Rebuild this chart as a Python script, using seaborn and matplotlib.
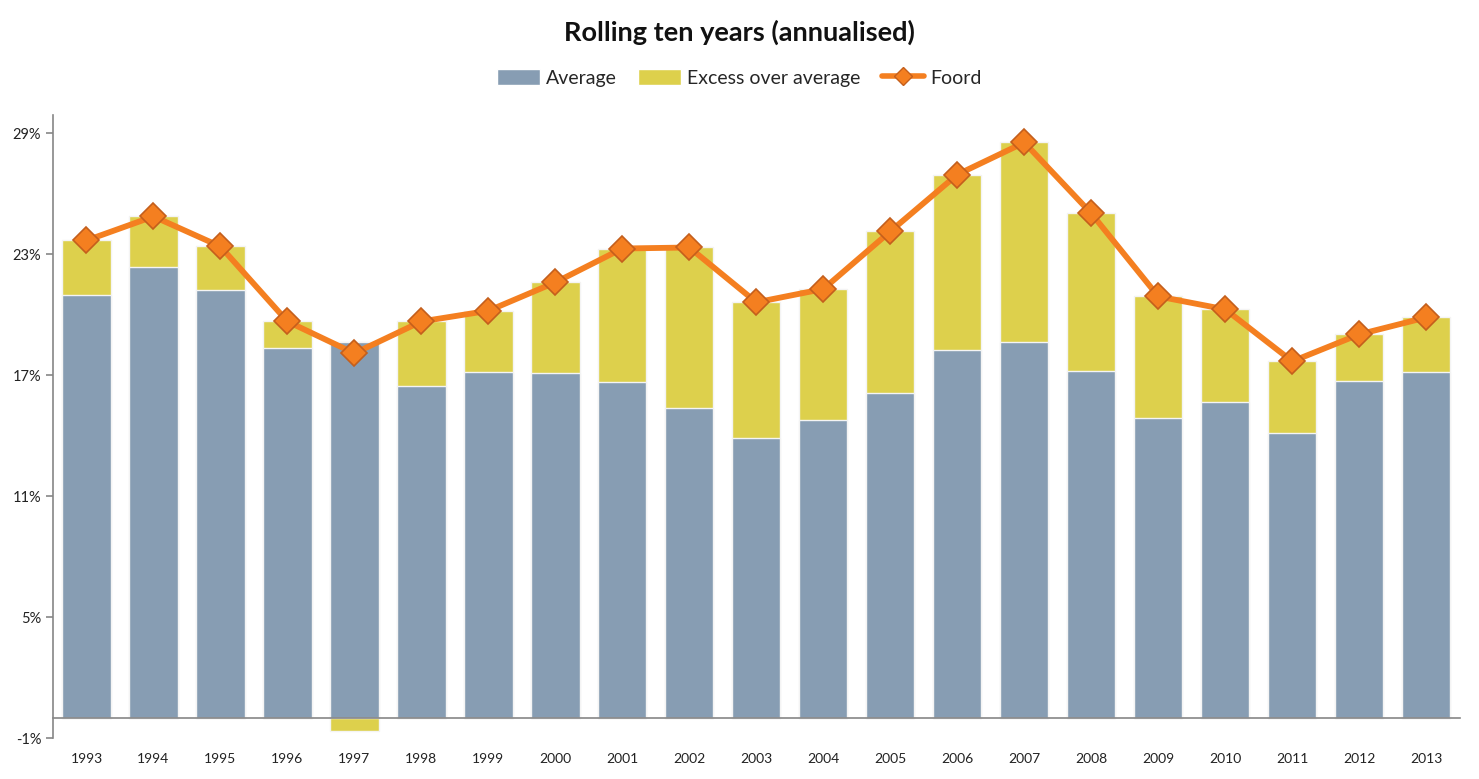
import numpy as np
import pandas as pd
import matplotlib
matplotlib.use("Agg")
import matplotlib.pyplot as plt
from matplotlib.lines import Line2D
from matplotlib.patches import Patch
import seaborn as sns

years = [str(y) for y in range(1993, 2014)]
average = [20.96, 22.35, 21.21, 18.34, 18.63, 16.45, 17.15, 17.10, 16.65, 15.36, 13.87,
           14.77, 16.10, 18.24, 18.63, 17.20, 14.87, 15.66, 14.12, 16.70, 17.15]
excess = [2.73, 2.53, 2.18, 1.33, -0.65, 3.22, 3.05, 4.51, 6.64, 7.98, 6.75,
          6.51, 8.04, 8.72, 9.92, 7.83, 6.04, 4.61, 3.57, 2.33, 2.72]
foord = [23.69, 24.88, 23.39, 19.67, 18.09, 19.67, 20.20, 21.61, 23.29, 23.34, 20.62,
         21.28, 24.14, 26.96, 28.55, 25.03, 20.91, 20.27, 17.69, 19.03, 19.87]
yticks = [-1, 5, 11, 17, 23, 29]

C_AVG = "#879DB3"
C_EXC = "#DDD04C"
C_LINE = "#F47F20"
C_EDGE = "#C45F1C"

sns.set_theme(style="white")
plt.rcParams['font.family'] = ['Lato', 'DejaVu Sans']

df = pd.DataFrame({"year": years, "average": average, "excess": excess, "foord": foord})
df["pos_top"] = df["average"] + df["excess"].clip(lower=0)
df["neg"] = df["excess"].clip(upper=0)
df["idx"] = np.arange(len(df))

fig = plt.figure(figsize=(14.79, 7.79), dpi=100)
ax = fig.add_axes([0.0358, 0.0526, 0.9512, 0.7994])

kw = dict(width=0.72, linewidth=1.0, edgecolor="#F4F4F4", ax=ax, order=years)
sns.barplot(data=df, x="year", y="pos_top", color=C_EXC, saturation=1, **kw)
sns.barplot(data=df, x="year", y="average", color=C_AVG, saturation=1, **kw)
sns.barplot(data=df, x="year", y="neg", color=C_EXC, saturation=1, **kw)

sns.lineplot(data=df, x="idx", y="foord", ax=ax, color=C_LINE, linewidth=4.2,
             marker="D", markersize=13, markerfacecolor=C_LINE,
             markeredgecolor=C_EDGE, markeredgewidth=1.2, zorder=5)

ax.set_xlim(-0.5, len(years) - 0.5)
ax.set_ylim(-1, 29.9)
ax.set_yticks(yticks)
ax.set_yticklabels([f"{v}%" for v in yticks])
ax.set_xlabel("")
ax.set_ylabel("")

for s in ["top", "right"]:
    ax.spines[s].set_visible(False)
ax.spines["left"].set_color("#868686")
ax.spines["left"].set_linewidth(1.2)
ax.spines["bottom"].set_position(("data", 0))
ax.spines["bottom"].set_color("#868686")
ax.spines["bottom"].set_linewidth(1.2)

ax.set_xticks(np.arange(len(years)))
ax.set_xticklabels(years)
ax.set_xticks(np.arange(len(years)) + 0.5, minor=True)
ax.tick_params(axis="x", which="major", length=0, pad=25, labelsize=10, labelcolor="#222222")
ax.tick_params(axis="x", which="minor", length=5, width=1.2, color="#868686", direction="out")
ax.tick_params(axis="y", which="major", length=5, width=1.2, color="#868686", direction="out",
               labelsize=10.5, labelcolor="#222222", left=True)

fig.suptitle("Rolling ten years (annualised)", y=0.975, fontsize=19.5, fontweight="bold",
             color="#111111")

handles = [Patch(facecolor=C_AVG, label="Average"),
           Patch(facecolor=C_EXC, label="Excess over average"),
           Line2D([0], [0], color=C_LINE, lw=4, marker="D", markersize=9,
                  markerfacecolor=C_LINE, markeredgecolor=C_EDGE, label="Foord")]
fig.legend(handles=handles, loc="center", bbox_to_anchor=(0.5, 0.9), ncol=3, frameon=False,
           fontsize=14, handlelength=2.2, handleheight=0.9, columnspacing=1.1, handletextpad=0.3)

fig.savefig("out.png", dpi=100)
